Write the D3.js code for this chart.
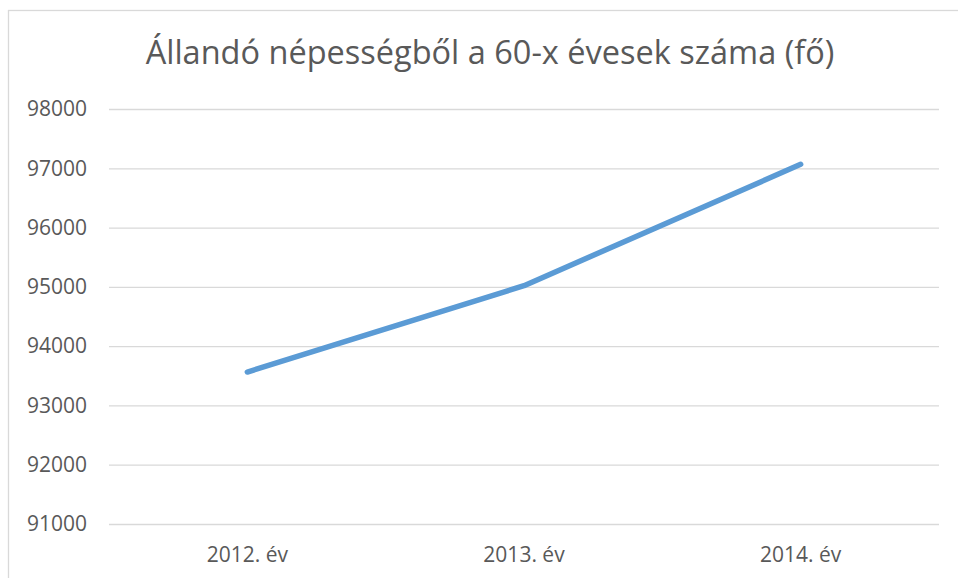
<!DOCTYPE html>
<html>
<head>
<meta charset="utf-8">
<script src="https://cdn.jsdelivr.net/npm/d3@7"></script>
<style>
  body { margin:0; background:#fff; }
  text { font-family:"Open Sans", sans-serif; fill:#595959; }
</style>
</head>
<body>
<svg width="958" height="578"></svg>
<script>
// chart data
var years = ["2012. év", "2013. év", "2014. év"];
var counts = [93563, 95020, 97067];
var yTicks = [91000, 92000, 93000, 94000, 95000, 96000, 97000, 98000];
var title = "Állandó népességből a 60-x évesek száma (fő)";

const svg = d3.select('svg');

// outer chart border (cut off on right and bottom)
svg.append('rect')
    .attr('x', 8.5)
    .attr('y', 10.5)
    .attr('width', 1000)
    .attr('height', 1000)
    .attr('fill', 'none')
    .attr('stroke', '#d9d9d9')
    .attr('stroke-width', 1.3);

var x = d3.scaleBand().domain(years).range([109, 939]).padding(0);
var y = d3.scaleLinear().domain([91000, 98000]).range([524, 109]);

// title
svg.append('text')
    .attr('x', 490)
    .attr('y', 64)
    .attr('text-anchor', 'middle')
    .attr('font-size', '32.5px')
    .text(title);

// gridlines + y labels
const yAxis = d3.axisLeft(y)
    .tickValues(yTicks)
    .tickFormat(d3.format('d'))
    .tickSize(-(939 - 109))
    .tickPadding(22);
const gy = svg.append('g')
    .attr('transform', 'translate(109,0)')
    .call(yAxis);
gy.select('.domain').remove();
gy.selectAll('line').attr('stroke', '#d9d9d9').attr('stroke-width', 1.3);
gy.selectAll('text')
    .attr('fill', '#595959')
    .attr('font-size', '21px')
    .attr('font-family', '"Open Sans", sans-serif');

// x labels
const xAxis = d3.axisBottom(x).tickSize(0).tickPadding(23);
const gx = svg.append('g')
    .attr('transform', 'translate(0,524)')
    .call(xAxis);
gx.select('.domain').remove();
gx.selectAll('text')
    .attr('fill', '#595959')
    .attr('font-size', '21px')
    .attr('font-family', '"Open Sans", sans-serif');

// the line
const line = d3.line()
    .x((d, i) => x(years[i]) + x.bandwidth() / 2)
    .y(d => y(d));

svg.append('path')
    .datum(counts)
    .attr('d', line)
    .attr('fill', 'none')
    .attr('stroke', '#5b9bd5')
    .attr('stroke-width', 5.5)
    .attr('stroke-linecap', 'round')
    .attr('stroke-linejoin', 'round');
</script>
</body>
</html>
